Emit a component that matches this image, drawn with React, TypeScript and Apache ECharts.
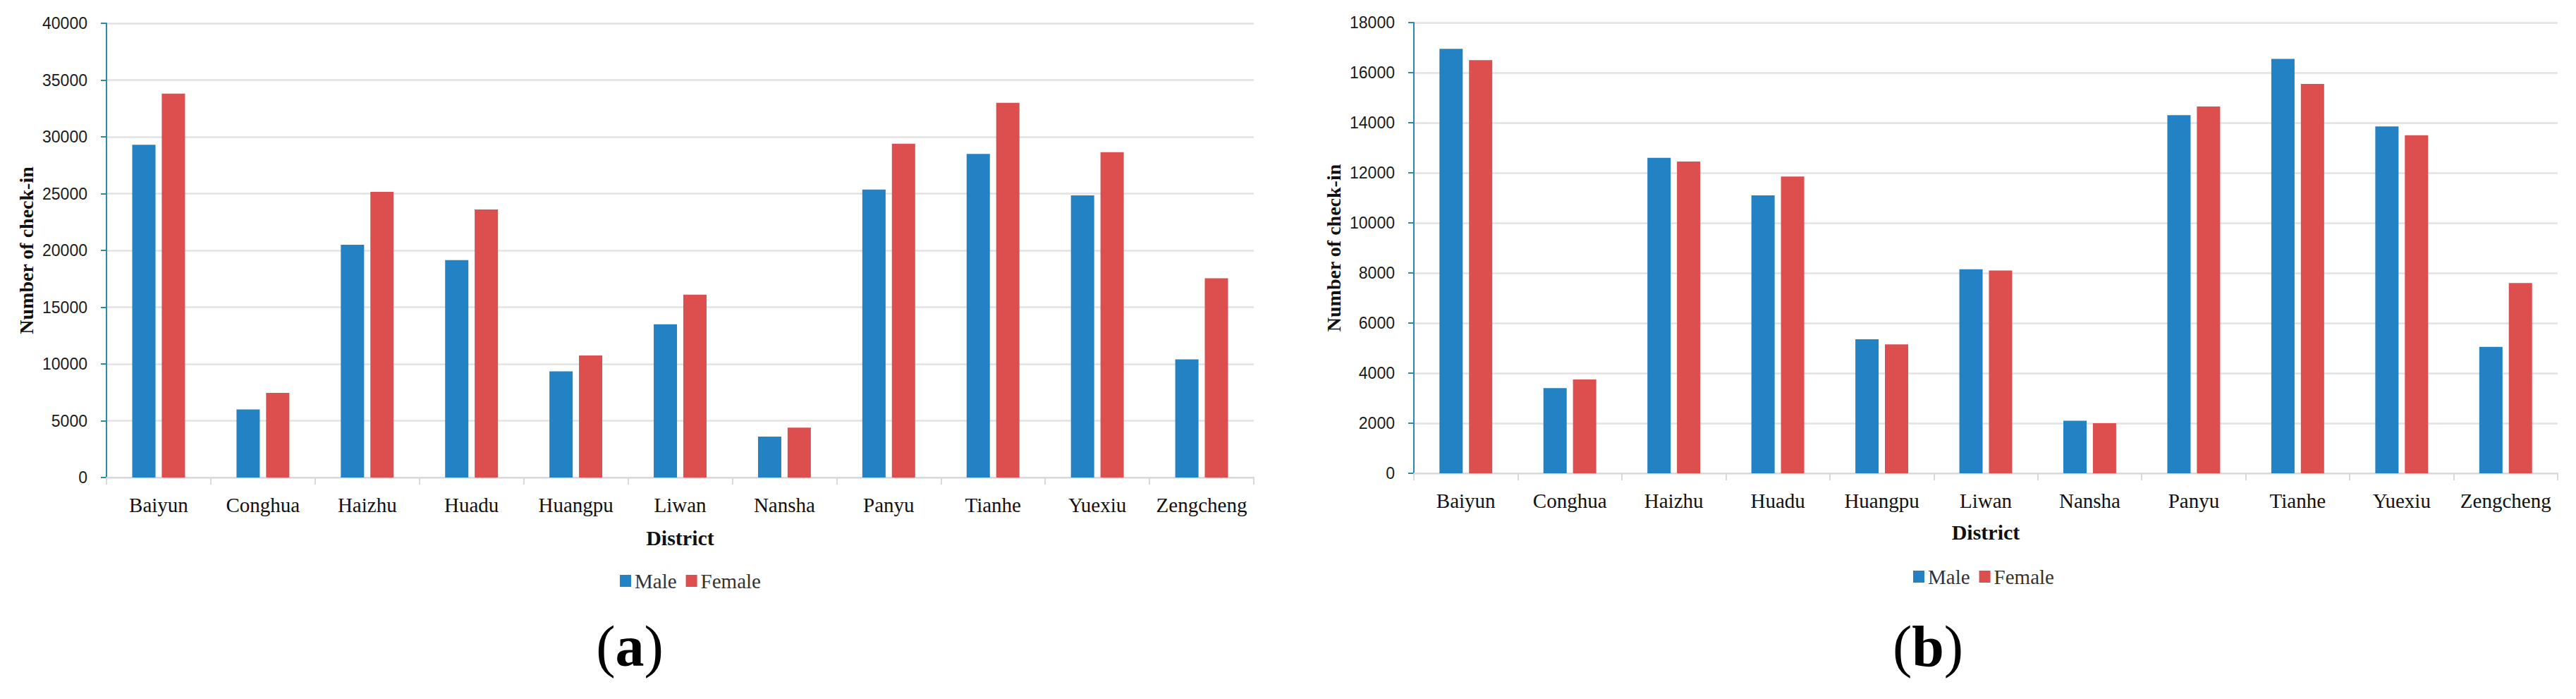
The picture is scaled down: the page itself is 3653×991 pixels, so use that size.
import React, { useEffect, useRef } from "react";
import * as echarts from "echarts";

const categories = ["Baiyun", "Conghua", "Haizhu", "Huadu", "Huangpu", "Liwan", "Nansha", "Panyu", "Tianhe", "Yuexiu", "Zengcheng"];
const maleA = [29300, 6000, 20500, 19150, 9350, 13500, 3600, 25350, 28500, 24850, 10400];
const femaleA = [33800, 7450, 25150, 23600, 10750, 16100, 4400, 29400, 33000, 28650, 17550];
const maleB = [16950, 3400, 12600, 11100, 5350, 8150, 2100, 14300, 16550, 13850, 5050];
const femaleB = [16500, 3750, 12450, 11850, 5150, 8100, 2000, 14650, 15550, 13500, 7600];
const seriesNames = ["Male", "Female"];
const panelLabels = ["a", "b"];

const BLUE = "#2382c4";
const RED = "#dc4f4e";
const SERIF = "'Liberation Serif', 'Times New Roman', serif";
const SANS = "'Liberation Sans', Arial, sans-serif";
const TEAL = "#2a8c9e";
const GRID = "#e2e2e2";

function xAxisCfg(gridIndex: number, nameGap: number) {
  return {
    type: "category",
    gridIndex,
    data: categories,
    name: "District",
    nameLocation: "middle",
    nameGap,
    nameTextStyle: { fontFamily: SERIF, fontSize: 30, fontWeight: "bold", color: "#111" },
    axisLine: { show: true, lineStyle: { color: "#d9d9d9", width: 2 } },
    axisTick: { show: true, length: 10, lineStyle: { color: "#d9d9d9", width: 2 } },
    axisLabel: { fontFamily: SERIF, fontSize: 29, color: "#111", margin: 24, interval: 0 },
    splitLine: { show: false },
  };
}

function yAxisCfg(gridIndex: number, max: number, interval: number) {
  return {
    type: "value",
    gridIndex,
    min: 0,
    max,
    interval,
    name: "Number of check-in",
    nameLocation: "middle",
    nameGap: 100,
    nameTextStyle: { fontFamily: SERIF, fontSize: 28, fontWeight: "bold", color: "#111" },
    axisLine: { show: true, lineStyle: { color: TEAL, width: 2 } },
    axisTick: { show: true, length: 8, lineStyle: { color: TEAL, width: 2 } },
    axisLabel: {
      fontFamily: SANS,
      fontSize: 23,
      color: "#1a1a1a",
      margin: 27,
      formatter: (v: number) => String(v),
    },
    splitLine: { show: true, lineStyle: { color: GRID, width: 2.5 } },
  };
}

function barSeries(name: string, data: number[], idx: number, color: string) {
  return {
    name,
    type: "bar",
    xAxisIndex: idx,
    yAxisIndex: idx,
    data,
    barWidth: 33,
    barGap: "27%",
    itemStyle: { color },
  };
}

export default function App() {
  const ref = useRef<HTMLDivElement>(null);
  useEffect(() => {
    if (!ref.current) return;
    const chart = echarts.init(ref.current, undefined, { renderer: "svg" });
    const panelText = (letter: string) => ({
      text: `{p|(}{b|${letter}}{p|)}`,
      rich: {
        p: { fontFamily: SERIF, fontSize: 82, fontWeight: "normal", fill: "#000" },
        b: { fontFamily: SERIF, fontSize: 82, fontWeight: "bold", fill: "#000" },
      },
      align: "center",
      verticalAlign: "middle",
      fill: "#000",
    });
    chart.setOption({
      animation: false,
      backgroundColor: "#ffffff",
      grid: [
        { left: 151, right: 1875, top: 33, bottom: 314, containLabel: false },
        { left: 2005, right: 26, top: 32, bottom: 320, containLabel: false },
      ],
      xAxis: [xAxisCfg(0, 70), xAxisCfg(1, 68)],
      yAxis: [yAxisCfg(0, 40000, 5000), yAxisCfg(1, 18000, 2000)],
      legend: [
        {
          left: 874,
          top: 804,
          data: seriesNames,
          icon: "rect",
          itemWidth: 16,
          itemHeight: 17,
          itemGap: 13,
          textStyle: { fontFamily: SERIF, fontSize: 29, color: "#333" },
          selectedMode: false,
        },
        {
          left: 2708,
          top: 798,
          data: seriesNames,
          icon: "rect",
          itemWidth: 16,
          itemHeight: 17,
          itemGap: 13,
          textStyle: { fontFamily: SERIF, fontSize: 29, color: "#333" },
          selectedMode: false,
        },
      ],
      series: [
        barSeries(seriesNames[0], maleA, 0, BLUE),
        barSeries(seriesNames[1], femaleA, 0, RED),
        barSeries(seriesNames[0], maleB, 1, BLUE),
        barSeries(seriesNames[1], femaleB, 1, RED),
      ],
      graphic: [
        { type: "text", x: 893, y: 916, style: panelText(panelLabels[0]) },
        { type: "text", x: 2734, y: 916, style: panelText(panelLabels[1]) },
      ],
    });
    return () => chart.dispose();
  }, []);
  return (
    <div
      ref={ref}
      style={{ position: "fixed", left: 0, top: 0, width: 3653, height: 991, background: "#fff" }}
    />
  );
}
